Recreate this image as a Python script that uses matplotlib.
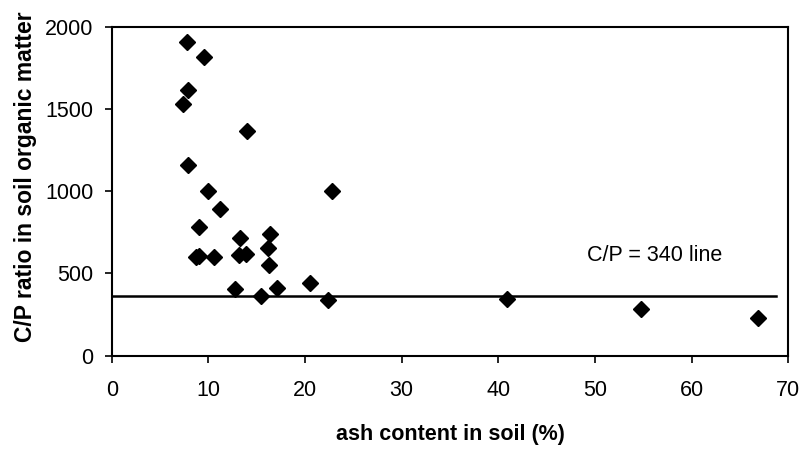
import matplotlib
matplotlib.use("Agg")
import matplotlib.pyplot as plt

# ash content (%) and C/P ratio
ash_pct = [7.8, 9.5, 7.9, 7.4, 14.0, 7.9, 10.0, 22.8, 11.2, 9.0,
           8.7, 9.0, 10.6, 13.3, 13.2, 13.9, 16.4, 16.2, 16.3, 12.8,
           15.4, 17.1, 20.5, 22.4, 40.9, 54.8, 66.9]
cp_ratio = [1910, 1815, 1615, 1530, 1365, 1160, 1000, 1000, 890, 780,
            597, 605, 597, 718, 611, 621, 738, 655, 550, 405,
            364, 409, 443, 338, 344, 281, 231]

cp_line = 360
line_span = [0, 68.7]

x_ticks = [0, 10, 20, 30, 40, 50, 60, 70]
y_ticks = [0, 500, 1000, 1500, 2000]

plt.rcParams["font.family"] = ["Liberation Sans", "DejaVu Sans"]

fig = plt.figure(figsize=(8.1, 4.5), dpi=100)
ax = fig.add_axes([0.138, 0.21, 0.835, 0.73])

ax.plot(line_span, [cp_line, cp_line], color="black", linewidth=1.8, zorder=2)
ax.plot(ash_pct, cp_ratio, linestyle="none", marker="D", markersize=8,
        color="black", zorder=3)
ax.text(49.2, 610, "C/P = 340 line", fontsize=15.5, va="center", ha="left")

ax.set_xlim(0, 70)
ax.set_ylim(0, 2000)
ax.set_xticks(x_ticks)
ax.set_yticks(y_ticks)
ax.tick_params(axis="both", direction="out", length=5, width=1.2,
               labelsize=15.5)
ax.tick_params(axis="x", pad=13)
ax.tick_params(axis="y", pad=8)

for spine in ax.spines.values():
    spine.set_linewidth(1.5)

ax.set_xlabel("ash content in soil (%)", fontsize=15.5, fontweight="bold", labelpad=16)
ax.set_ylabel("C/P ratio in soil organic matter", fontsize=16.5, fontweight="bold", labelpad=9)
ax.yaxis.set_label_coords(-0.11, 0.545)

fig.savefig("out.png", dpi=100)
